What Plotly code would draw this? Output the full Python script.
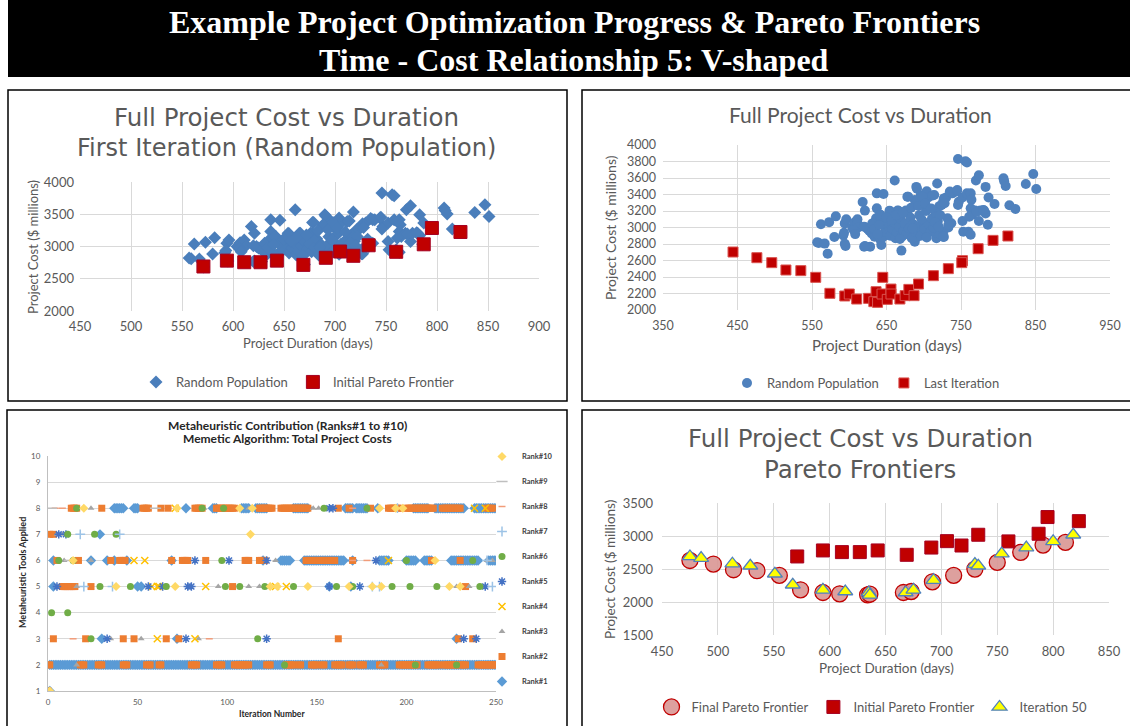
import plotly.graph_objects as go

W, H = 1130, 726


def px(x):
    return x / W


def py(y):
    return 1 - y / H


# ---------------- DATA ----------------
# Random population (first iteration) : duration (days), cost ($ millions)
RP_DUR = [557, 559, 562, 567, 571, 573, 580, 582, 592, 594, 596, 593, 594, 595, 604, 607, 611, 611, 612, 606,
          608, 618, 621, 623, 620, 627, 628, 621, 637, 637, 642, 646, 655, 661, 665, 678, 676, 690, 691, 696,
          698, 704, 706, 712, 718, 721, 726, 730, 737, 744, 746, 747, 752, 756, 758, 758, 763, 764, 763, 765,
          752, 753, 760, 763, 770, 774, 769, 774, 776, 781, 783, 787, 795, 786, 807, 808, 810, 815, 823, 837,
          847, 851, 727, 726, 733, 737, 670, 643, 634, 642, 645, 630, 625, 620, 688, 691, 705, 707, 717, 719,
          726, 732, 733, 727, 724, 728, 739, 735, 745, 746, 761, 771, 783, 780, 636, 641, 654, 666, 678, 688,
          679, 698, 714, 648, 652, 655, 658, 660, 662, 664, 667, 669, 671, 673, 675, 677, 680, 682, 684, 686,
          689, 692, 694, 696, 699, 701, 703, 706, 709, 711, 713, 716, 719, 722, 645, 650, 657, 663, 672, 683,
          693, 702, 710, 715, 720, 631, 634, 638, 640, 668, 685, 697, 704]
RP_COST = [2820, 2812, 3040, 2805, 2683, 3065, 2885, 3135, 2905, 3050, 3100, 2937, 2804, 2776, 3000, 3060, 3100, 3050, 3000, 2970,
           2920, 3310, 3205, 3000, 2767, 2960, 2768, 2776, 3414, 3232, 3155, 3406, 3197, 3570, 3207, 3373, 3207, 3492, 3470, 3389,
           3311, 3440, 3363, 3389, 3534, 3259, 3311, 3363, 3414, 3440, 3830, 3311, 3363, 3803, 3788, 3414, 3414, 3337, 3233, 3155,
           3078, 2948, 2948, 2912, 3570, 3632, 3207, 3078, 3207, 3207, 3492, 3363, 3285, 3034, 3596, 3560, 3503, 3270, 3225, 3528,
           3648, 3466, 2886, 2948, 3000, 3052, 2720, 2788, 2889, 2849, 2881, 2929, 2978, 3010, 2828, 2889, 2930, 2970, 2869, 2930,
           2889, 3111, 3030, 3353, 3273, 3293, 3415, 3435, 3455, 3273, 3131, 3192, 3171, 3212, 3111, 3151, 3204, 3204, 3200, 3333,
           3374, 3374, 3394, 2950, 3020, 2900, 2980, 3060, 2870, 2940, 3010, 3100, 2890, 2960, 3050, 2920, 2990, 3120, 2870, 3040,
           2950, 3010, 3150, 2900, 3070, 2980, 3200, 3040, 2950, 3110, 3000, 3180, 3080, 3150, 3050, 3120, 3090, 3150, 3180, 3240,
           3260, 3290, 3230, 3060, 3010, 3050, 2980, 2920, 3030, 2860, 2990, 3100, 2880]

# Initial Pareto frontier
INIT_DUR = [571, 594, 611, 627, 643, 669, 691, 705, 718, 733, 760, 787, 795, 823]
INIT_COST = [2690, 2781, 2756, 2756, 2781, 2715, 2825, 2922, 2856, 3019, 2918, 3034, 3287, 3225]

# Last iteration
LAST_DUR = [444, 476, 496, 515, 535, 555, 574, 594, 600, 610, 626, 636, 633, 638, 644, 645, 651, 656, 656, 668,
            675, 680, 687, 693, 713, 733, 752, 751, 773, 793, 813]
LAST_COST = [2703, 2634, 2574, 2485, 2477, 2396, 2202, 2170, 2194, 2133, 2141, 2222, 2101, 2093, 2194, 2396, 2129, 2254, 2194, 2133,
             2174, 2250, 2174, 2315, 2416, 2501, 2598, 2574, 2743, 2844, 2897]

# Final Pareto frontier
FINAL_DUR = [475, 496, 514, 535, 555, 574, 594, 609, 634, 636, 666, 673, 692, 711, 730, 750, 771, 791, 811]
FINAL_COST = [2629, 2575, 2489, 2474, 2403, 2185, 2144, 2124, 2109, 2118, 2144, 2159, 2306, 2403, 2499, 2600, 2752, 2863, 2903]

# Iteration 50
IT50_DUR = [475, 485, 513, 529, 551, 567, 594, 614, 635, 636, 668, 675, 693, 730, 733, 754, 776, 800, 818]
IT50_COST = [2690, 2666, 2580, 2549, 2428, 2261, 2185, 2159, 2144, 2109, 2144, 2185, 2332, 2575, 2549, 2734, 2825, 2918, 3019]

# Metaheuristic tool applied per rank: {tool level: iterations (single or [first, last] runs)}
RANK1 = {1: [1], 2: [[1, 250]], 3: [30, 72, 228], 5: [3, 50, 52, 157, 169],
         6: [3, 24, 33, 37, 44, 69, 120, [130, 135], [143, 165], 170, [185, 190], [200, 205], [210, 214], [225, 240], [246, 250]],
         7: [29],
         8: [[37, 42], [48, 50], 77, [92, 94], [108, 112], [116, 122], [137, 145], [166, 170], [172, 178], 184,
             [204, 212], [216, 232], [238, 250]]}
RANK2 = {1: [0],
         2: [[0, 1], [18, 20], [28, 30], [42, 44], [55, 57], [62, 63], [80, 83], [94, 97], [104, 112], [122, 124],
             [133, 137], [140, 141], [147, 150], [153, 154], [160, 164], [168, 170], [174, 176], [185, 188],
             [196, 206], [212, 218], [221, 228], [230, 233], [240, 250]],
         3: [3, 21, 42, 48, 66, 73, 162, 229, 237],
         5: [[8, 15], 24, 103, 233],
         6: [5, 17, 35, [40, 43], 69, [75, 78], 88, [110, 112], [118, 121], [144, 160], 170, 214, 230],
         7: [1, 3],
         8: [[13, 16], 30, [53, 56], 63, 67, [82, 86], [94, 104], [118, 125], [130, 145], 162, 168, 180,
             [190, 196], [200, 215], [220, 230], [245, 248]]}
RANK3 = {2: [16, 186], 3: [35, 52, 84], 5: [16, 95, 112, 118, 228, 235], 6: [9, 24, 127, 245, 248],
         7: [5, 8], 8: [24, 87, 112, 148, 151]}
RANK4 = {3: [61, 82], 5: [58, 61, 62, 88, 127, 133], 6: [48, 54, 190], 8: [71, 238, 244]}
RANK5 = {3: [33, 77, 122, 232, 239], 5: [5, 56, 64, 78, 80, 157, 174, 244], 6: [82, 101, 122, 183],
         7: [6, 10], 8: [157, 159]}
RANK6 = {2: [132, 205, 228], 3: [24, 117], 4: [2, 11],
         5: [29, 46, 66, 99, 107, 121, 137, 161, 170, 192, 202, 217, 241],
         6: [6, 14, 97, 200, 237], 7: [11, 26, 38], 8: [16, 86, 98, 154, 178]}
RANK7 = {5: [20, 36, 181, 185, 248], 6: [245], 7: [18, 40], 8: [195]}
RANK8 = {3: [14, 90], 6: [170, 178], 8: [4, 8, 170]}
RANK9 = {6: [12], 8: [2, 60]}
RANK10 = {1: [1], 5: [38, 71, 124, 128, 145, 168, 181, 186, 224, 230], 6: [14, 216], 7: [113],
          8: [20, 72, 107, 114, 185, 194, 198]}

RANKS = [RANK1, RANK2, RANK3, RANK4, RANK5, RANK6, RANK7, RANK8, RANK9, RANK10]
RANK_NAMES = ["Rank#%d" % i for i in range(1, 11)]

# ---------------- STYLES ----------------
GREY = "#595959"
GRID = "#D9D9D9"
FONT = "Lato"
RANK_STYLE = [
    dict(symbol="diamond", color="#5B9BD5", size=8),
    dict(symbol="square", color="#ED7D31", size=7),
    dict(symbol="triangle-up", color="#A5A5A5", size=6),
    dict(symbol="x-thin-open", color="#FFC000", size=7),
    dict(symbol="asterisk-open", color="#4472C4", size=7),
    dict(symbol="circle", color="#70AD47", size=7),
    dict(symbol="cross-thin-open", color="#9DC3E6", size=7),
    dict(symbol="line-ew-open", color="#F19C79", size=5),
    dict(symbol="line-ew-open", color="#BFBFBF", size=8),
    dict(symbol="diamond", color="#FFD966", size=7),
]


def expand(runs):
    out = []
    for r in runs:
        if isinstance(r, list):
            out.extend(range(r[0], r[1] + 1))
        else:
            out.append(r)
    return out


fig = go.Figure()

# ---- Top-left panel
fig.add_trace(go.Scatter(x=RP_DUR, y=RP_COST, mode="markers", name="Random Population",
                         marker=dict(symbol="diamond", size=10, color="#4A7EBB"),
                         xaxis="x", yaxis="y", legend="legend"))
fig.add_trace(go.Scatter(x=INIT_DUR, y=INIT_COST, mode="markers", name="Initial Pareto Frontier",
                         marker=dict(symbol="square", size=13, color="#C00000", line=dict(color="#A50021", width=1)),
                         xaxis="x", yaxis="y", legend="legend"))

# ---- Top-right panel
fig.add_trace(go.Scatter(x=RP_DUR, y=RP_COST, mode="markers", name="Random Population",
                         marker=dict(symbol="circle", size=10, color="#4F81BD"),
                         xaxis="x2", yaxis="y2", legend="legend2"))
fig.add_trace(go.Scatter(x=LAST_DUR, y=LAST_COST, mode="markers", name="Last Iteration",
                         marker=dict(symbol="square", size=10, color="#C00000", line=dict(color="#D9534F", width=1)),
                         xaxis="x2", yaxis="y2", legend="legend2"))

# ---- Bottom-left panel
for i, (rk, nm, st) in enumerate(zip(RANKS, RANK_NAMES, RANK_STYLE)):
    xs, ys = [], []
    for tool, runs in rk.items():
        its = expand(runs)
        xs.extend(its)
        ys.extend([tool] * len(its))
    line_w = 1.5 if "open" in st["symbol"] else 0
    fig.add_trace(go.Scatter(x=xs, y=ys, mode="markers", name=nm, legendgroup=nm, legendrank=10 - i,
                             marker=dict(symbol=st["symbol"], size=st["size"], color=st["color"],
                                         line=dict(color=st["color"], width=line_w)),
                             xaxis="x3", yaxis="y3", legend="legend3"))

# ---- Bottom-right panel
fig.add_trace(go.Scatter(x=FINAL_DUR, y=FINAL_COST, mode="markers", name="Final Pareto Frontier",
                         marker=dict(symbol="circle", size=16, color="rgba(217,150,148,0.9)",
                                     line=dict(color="#C00000", width=1.3)),
                         xaxis="x4", yaxis="y4", legend="legend4"))
fig.add_trace(go.Scatter(x=INIT_DUR, y=INIT_COST, mode="markers", name="Initial Pareto Frontier",
                         marker=dict(symbol="square", size=13, color="#C00000", line=dict(color="#A50021", width=1)),
                         xaxis="x4", yaxis="y4", legend="legend4"))
fig.add_trace(go.Scatter(x=IT50_DUR, y=IT50_COST, mode="markers", name="Iteration 50",
                         marker=dict(symbol="triangle-up", size=13, color="#FFFF00",
                                     line=dict(color="#4F81BD", width=1.3)),
                         xaxis="x4", yaxis="y4", legend="legend4"))


def ax(domain, rng, dtick, size=13, grid=True, line=False, anchor=None, standoff=5):
    d = dict(domain=domain, range=rng, dtick=dtick, tick0=rng[0], showgrid=grid, gridcolor=GRID, gridwidth=1,
             zeroline=False, showline=line, linecolor="#BFBFBF", linewidth=1, ticklabelstandoff=standoff,
             tickfont=dict(family=FONT, size=size, color=GREY), fixedrange=True)
    if anchor:
        d["anchor"] = anchor
    return d


layout = dict(
    width=W, height=H, margin=dict(l=0, r=0, t=0, b=0, autoexpand=False),
    paper_bgcolor="white", plot_bgcolor="rgba(0,0,0,0)",
    font=dict(family=FONT, color=GREY),
    xaxis=ax([px(80), px(539)], [450, 900], 50, anchor="y", standoff=6),
    yaxis=ax([py(311), py(182)], [2000, 4000], 500, anchor="x", standoff=5),
    xaxis2=ax([px(663), px(1110)], [350, 950], 100, size=12.5, anchor="y2", standoff=6),
    yaxis2=ax([py(310), py(145)], [2000, 4000], 200, size=12.5, anchor="x2", standoff=6),
    xaxis3=ax([px(48), px(496)], [0, 250], 50, size=8, grid=False, line=True, anchor="y3", standoff=3),
    yaxis3=ax([py(691), py(456)], [1, 10], 1, size=8, line=True, anchor="x3", standoff=5),
    xaxis4=ax([px(662), px(1109)], [450, 850], 50, anchor="y4", standoff=7),
    yaxis4=ax([py(635), py(503)], [1500, 3500], 500, anchor="x4", standoff=8),
    showlegend=True,
    legend=dict(x=px(298), y=py(382), xanchor="center", yanchor="middle", orientation="h",
                font=dict(family=FONT, size=13, color=GREY), bgcolor="rgba(0,0,0,0)", itemwidth=30),
    legend2=dict(x=px(866), y=py(383), xanchor="center", yanchor="middle", orientation="h",
                 font=dict(family=FONT, size=13, color=GREY), bgcolor="rgba(0,0,0,0)", itemwidth=30),
    legend3=dict(x=px(482), y=py(442), xanchor="left", yanchor="top", orientation="v",
                 traceorder="grouped", tracegroupgap=6,
                 font=dict(family=FONT, size=7.5, color="#404040", weight="bold"), bgcolor="rgba(0,0,0,0)",
                 itemwidth=30),
    legend4=dict(x=px(872), y=py(707), xanchor="center", yanchor="middle", orientation="h",
                 font=dict(family=FONT, size=13, color=GREY), bgcolor="rgba(0,0,0,0)", itemwidth=30),
)
fig.update_layout(**layout)

# ---- Shapes: header bar and panel borders
shapes = [
    dict(type="rect", xref="paper", yref="paper", x0=px(8), x1=px(1130), y0=py(77), y1=py(0),
         fillcolor="black", line=dict(width=0), layer="below"),
]
for (x0, y0, x1, y1) in [(8, 90, 567, 401), (582, 90, 1135, 401), (7, 410, 567, 735), (582, 410, 1135, 735)]:
    shapes.append(dict(type="rect", xref="paper", yref="paper", x0=px(x0), x1=px(x1), y0=py(y1), y1=py(y0),
                       line=dict(color="black", width=1.5), fillcolor="rgba(0,0,0,0)"))
fig.update_layout(shapes=shapes)

# ---- Text annotations
ann = []


def text(x, y, t, size, color=GREY, family=FONT, angle=0, bold=False):
    ann.append(dict(x=px(x), y=py(y), xref="paper", yref="paper", text=t, showarrow=False,
                    xanchor="center", yanchor="middle", textangle=angle,
                    font=dict(family=family, size=size, color=color, weight="bold" if bold else "normal")))


# header
text(574, 22, "Example Project Optimization Progress &amp; Pareto Frontiers", 32, "white", "Liberation Serif", bold=True)
text(574, 60, "Time - Cost Relationship 5: V-shaped", 32, "white", "Liberation Serif", bold=True)

# top-left
text(286, 117, "Full Project Cost vs Duration", 24.5, GREY, "DejaVu Sans")
text(286, 148, "First Iteration (Random Population)", 24, GREY, "DejaVu Sans")
text(308, 343, "Project Duration (days)", 13)
text(33, 247, "Project Cost ($ millions)", 13, angle=-90)

# top-right
text(860, 114, "Full Project Cost vs Duration", 21)
text(887, 345, "Project Duration (days)", 15)
text(610, 228, "Project Cost ($ millions)", 14, angle=-90)

# bottom-left
text(287, 425, "Metaheuristic Contribution (Ranks#1 to #10)", 12, "#262626", bold=True)
text(287, 439, "Memetic Algorithm: Total Project Costs", 12, "#262626", bold=True)
text(272, 714, "Iteration Number", 8.5, "#262626", bold=True)
text(22, 573, "Metaheuristic Tools Applied", 9, "#262626", angle=-90, bold=True)

# bottom-right
text(860, 438, "Full Project Cost vs Duration", 24.5, GREY, "DejaVu Sans")
text(860, 469, "Pareto Frontiers", 24.5, GREY, "DejaVu Sans")
text(886, 668, "Project Duration (days)", 13.5)
text(610, 570, "Project Cost ($ millions)", 13.5, angle=-90)

fig.update_layout(annotations=ann)

fig.write_html("out.html", config={"displayModeBar": False},
               post_script="document.body.style.margin='0';document.body.style.overflow='hidden';")
